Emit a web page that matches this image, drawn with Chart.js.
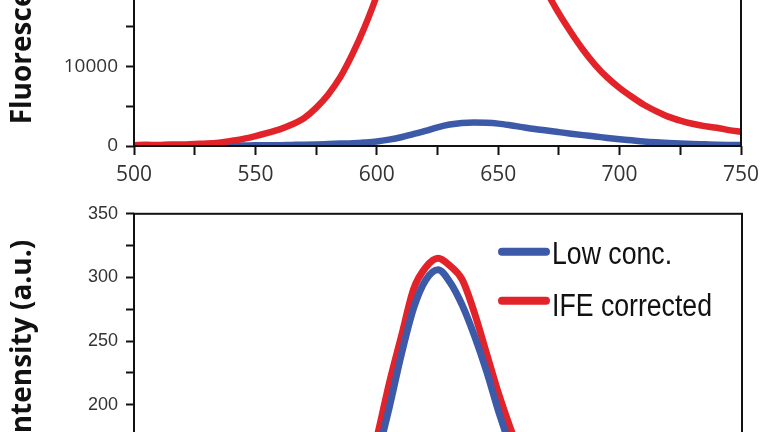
<!DOCTYPE html>
<html>
<head>
<meta charset="utf-8">
<script src="https://cdn.jsdelivr.net/npm/chart.js@4.4.1/dist/chart.umd.min.js"></script>
<style>
  html, body { margin: 0; padding: 0; background: #fff; overflow: hidden; width: 768px; height: 432px; }
  .panel { position: absolute; left: 0; width: 768px; }
  #top-panel { top: -310px; height: 510px; }
  #bottom-panel { top: 195px; height: 520px; }
</style>
</head>
<body>
<div class="panel" id="top-panel"><canvas id="spectra-top" width="768" height="510"></canvas></div>
<div class="panel" id="bottom-panel"><canvas id="spectra-bottom" width="768" height="520"></canvas></div>
<script>
// wavelengths (nm)
const wavelengths = [500, 505, 510, 515, 520, 525, 530, 535, 540, 545, 550, 555, 560, 565, 570, 575,
  580, 585, 590, 595, 600, 605, 610, 615, 620, 625, 630, 635, 640, 645, 650, 655, 660, 665, 670, 675,
  680, 685, 690, 695, 700, 705, 710, 715, 720, 725, 730, 735, 740, 745, 750];

// upper panel: high concentration (red) vs low concentration (blue)
const topHighConc = [100, 150, 120, 200, 180, 250, 300, 420, 650, 900, 1250, 1650, 2100, 2700, 3500, 4800,
  6500, 8700, 11600, 15000, 19000, 24000, 29000, 34000, 38500, 41500, 43000, 43500, 42500, 40000, 36000, 31000, 26500, 22300, 19400, 16700,
  14300, 12100, 10200, 8600, 7300, 6200, 5200, 4400, 3700, 3200, 2800, 2500, 2300, 2000, 1800];
const topLowConc = [30, 30, 30, 35, 40, 45, 50, 55, 60, 70, 80, 95, 110, 135, 160, 200,
  250, 300, 350, 440, 570, 800, 1100, 1500, 1900, 2350, 2700, 2900, 2950, 2920, 2820, 2620, 2380, 2150, 1950, 1750,
  1550, 1370, 1200, 1020, 860, 720, 580, 470, 380, 310, 250, 210, 170, 140, 120];

// lower panel: low concentration vs IFE corrected
const lowConc = [2, 2, 3, 3, 4, 5, 7, 9, 11, 14, 17, 22, 27, 34, 42, 52,
  64, 80, 100, 128, 160, 198, 240, 276, 298, 306, 296, 278, 254, 226, 194, 166, 142, 120, 100, 84,
  70, 58, 48, 40, 32, 27, 22, 18, 14, 11, 9, 7, 6, 5, 4];
const ifeCorrected = [2, 2, 3, 4, 5, 6, 8, 10, 12, 15, 19, 24, 30, 38, 46, 58,
  72, 90, 112, 140, 175, 217, 254, 291, 308, 315, 309, 298, 272, 240, 208, 180, 154, 130, 110, 92,
  77, 64, 53, 44, 36, 30, 24, 19, 15, 12, 10, 8, 6, 5, 4];

const topYMax = 55000;
const bottomYMax = 350;

const RED = '#e3232a';
const BLUE = '#3d5aa9';

function toPoints(values) {
  return wavelengths.map((w, i) => ({ x: w, y: values[i] }));
}

// draws the full frame around the plot area
const frameBox = {
  id: 'frameBox',
  afterDraw(chart) {
    const { ctx, chartArea } = chart;
    ctx.save();
    ctx.strokeStyle = '#111';
    ctx.lineWidth = 2;
    ctx.strokeRect(chartArea.left, chartArea.top, chartArea.right - chartArea.left, chartArea.bottom - chartArea.top);
    ctx.restore();
  }
};

// legend inside the lower plot, thick rounded line samples, condensed text
const insideLegend = {
  id: 'insideLegend',
  afterDraw(chart) {
    const { ctx, chartArea } = chart;
    chart.data.datasets.forEach((ds, i) => {
      const lineY = chartArea.top + 38 + i * 49;
      ctx.save();
      ctx.strokeStyle = ds.borderColor;
      ctx.lineWidth = 8;
      ctx.lineCap = 'round';
      ctx.beginPath();
      ctx.moveTo(chartArea.left + 368, lineY);
      ctx.lineTo(chartArea.left + 412, lineY);
      ctx.stroke();
      ctx.translate(chartArea.left + 418, chartArea.top + 50 + i * 52);
      ctx.scale(0.86, 1);
      ctx.fillStyle = '#111';
      ctx.font = '31px "Liberation Sans"';
      ctx.textBaseline = 'alphabetic';
      ctx.fillText(ds.label, 0, 0);
      ctx.restore();
    });
  }
};

function makeScales(opts) {
  return {
    x: {
      type: 'linear',
      min: 500,
      max: 750,
      afterFit: (scale) => { scale.height = opts.xHeight; },
      border: { display: false },
      grid: { drawOnChartArea: false, tickLength: 9, tickColor: '#111', tickWidth: 2 },
      ticks: {
        stepSize: 25,
        maxTicksLimit: 100,
        autoSkip: false,
        maxRotation: 0,
        padding: 7,
        color: '#333',
        font: { family: opts.tickFamily, size: 21 },
        callback: (v) => (v % 50 === 0 ? v : '')
      }
    },
    y: {
      min: 0,
      max: opts.yMax,
      afterFit: (scale) => { scale.width = 134; },
      border: { display: false },
      grid: { drawOnChartArea: false, tickLength: 8, tickColor: '#111', tickWidth: 2 },
      ticks: {
        stepSize: opts.yStep,
        maxTicksLimit: 100,
        autoSkip: false,
        padding: 8,
        color: '#333',
        font: { family: opts.tickFamily, size: opts.yTickSize },
        callback: (v) => (v % (opts.yStep * 2) === 0 ? v : '')
      },
      title: {
        display: true,
        text: 'Fluorescence Intensity (a.u.)',
        color: '#111',
        padding: { top: 6, bottom: 0 },
        font: { family: 'Open Sans', size: 28, weight: 'bold' }
      }
    }
  };
}

new Chart(document.getElementById('spectra-top').getContext('2d'), {
  type: 'line',
  data: {
    datasets: [
      { label: 'High conc.', data: toPoints(topHighConc), borderColor: RED, borderWidth: 6.5, pointRadius: 0, cubicInterpolationMode: 'monotone' },
      { label: 'Low conc.', data: toPoints(topLowConc), borderColor: BLUE, borderWidth: 6.5, pointRadius: 0, cubicInterpolationMode: 'monotone' }
    ]
  },
  options: {
    responsive: false,
    animation: false,
    devicePixelRatio: 1,
    layout: { padding: { top: 8, right: 27, left: 0, bottom: 0 } },
    scales: makeScales({ yMax: topYMax, yStep: 5000, xHeight: 54, tickFamily: 'Open Sans', yTickSize: 19 }),
    plugins: { legend: { display: false }, tooltip: { enabled: false } }
  },
  plugins: [frameBox]
});

new Chart(document.getElementById('spectra-bottom').getContext('2d'), {
  type: 'line',
  data: {
    datasets: [
      { label: 'Low conc.', data: toPoints(lowConc), borderColor: BLUE, borderWidth: 7, pointRadius: 0, cubicInterpolationMode: 'monotone' },
      { label: 'IFE corrected', data: toPoints(ifeCorrected), borderColor: RED, borderWidth: 7, pointRadius: 0, cubicInterpolationMode: 'monotone' }
    ]
  },
  options: {
    responsive: false,
    animation: false,
    devicePixelRatio: 1,
    layout: { padding: { top: 14, right: 26, left: 0, bottom: 0 } },
    scales: makeScales({ yMax: bottomYMax, yStep: 25, xHeight: 56, tickFamily: 'Liberation Sans', yTickSize: 18 }),
    plugins: { legend: { display: false }, tooltip: { enabled: false } }
  },
  plugins: [frameBox, insideLegend]
});
</script>
</body>
</html>
